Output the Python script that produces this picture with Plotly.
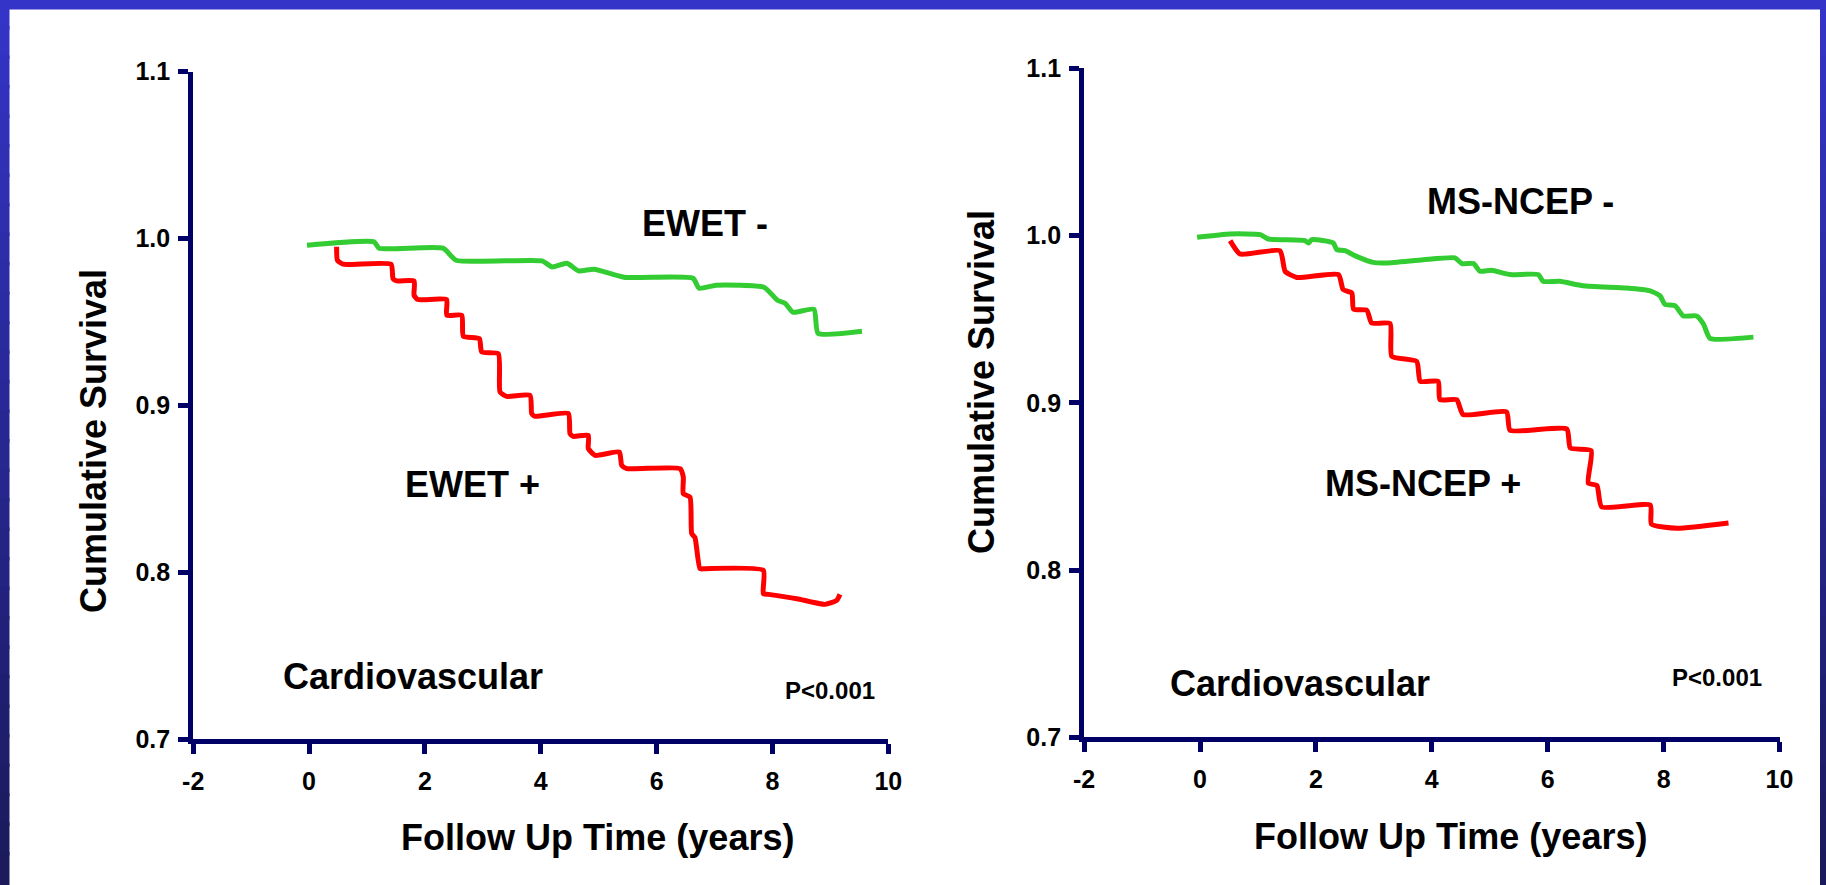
import plotly.graph_objects as go

# ---------------- data ----------------
ewet_neg_t = [-0.035, 1.122, 1.208, 2.313, 2.538, 4.022, 4.195, 4.454, 4.652, 4.920, 5.438,
              6.629, 6.733, 7.026, 7.854, 8.087, 8.217, 8.355, 8.717, 8.787, 9.546]
ewet_neg_s = [0.996, 0.998, 0.9942, 0.9942, 0.9870, 0.9866, 0.9830, 0.9852, 0.9806, 0.9816, 0.9768,
              0.9762, 0.9702, 0.9720, 0.9708, 0.9630, 0.9612, 0.9558, 0.9576, 0.9432, 0.9444]

ewet_pos_t = [0.476, 0.490, 0.589, 1.415, 1.450, 1.514, 1.813, 1.813, 1.878, 2.374, 2.377, 2.636,
              2.664, 2.940, 2.981, 3.268, 3.297, 3.413, 3.815, 3.844, 3.901, 4.476, 4.505, 4.562,
              4.821, 4.821, 4.937, 5.356, 5.398, 5.484, 6.404, 6.461, 6.461, 6.577, 6.606, 6.663,
              6.749, 6.836, 7.842, 7.842, 7.929, 8.419, 8.907, 9.109, 9.166]
ewet_pos_s = [0.995, 0.987, 0.9846, 0.9846, 0.9760, 0.9746, 0.9746, 0.9660, 0.9634, 0.9634, 0.9540,
              0.9540, 0.9414, 0.9400, 0.9320, 0.9310, 0.9080, 0.9054, 0.9060, 0.8951, 0.8934, 0.8951,
              0.8831, 0.8814, 0.8820, 0.8741, 0.8700, 0.8720, 0.8640, 0.8621, 0.8621, 0.8570, 0.8471,
              0.8450, 0.8231, 0.8207, 0.8021, 0.8021, 0.8011, 0.7871, 0.7867, 0.7841, 0.7807, 0.7831,
              0.7867]

ncep_neg_t = [-0.05, 0.52, 1.04, 1.18, 1.81, 1.87, 1.93, 2.30, 2.36, 2.50, 2.70, 2.99, 3.22, 3.85,
              4.40, 4.52, 4.72, 4.83, 5.03, 5.35, 5.84, 5.92, 6.21, 6.61, 7.36, 7.77, 7.94, 8.02,
              8.20, 8.34, 8.57, 8.69, 8.80, 9.55]
ncep_neg_s = [0.999, 1.001, 1.0006, 0.998, 0.997, 0.9956, 0.9976, 0.9956, 0.9916, 0.991, 0.9876,
              0.984, 0.9837, 0.9856, 0.9867, 0.9833, 0.9833, 0.9787, 0.9793, 0.9767, 0.9767, 0.9727,
              0.9727, 0.970, 0.9687, 0.967, 0.964, 0.959, 0.958, 0.952, 0.952, 0.947, 0.9386, 0.9393]

ncep_pos_t = [0.52, 0.69, 1.38, 1.47, 1.67, 2.39, 2.47, 2.62, 2.65, 2.88, 2.96, 3.28, 3.31, 3.74,
              3.80, 4.11, 4.14, 4.43, 4.54, 5.29, 5.35, 6.33, 6.39, 6.75, 6.70, 6.85, 6.93, 7.77,
              7.79, 8.23, 9.12]
ncep_pos_s = [0.997, 0.989, 0.991, 0.9786, 0.975, 0.9767, 0.9677, 0.9657, 0.956, 0.9553, 0.9478,
              0.9474, 0.9278, 0.9248, 0.9129, 0.9129, 0.9019, 0.9019, 0.893, 0.8946, 0.8836, 0.8844,
              0.873, 0.8715, 0.852, 0.8506, 0.8378, 0.8388, 0.8275, 0.825, 0.8282]

x_ticks = [-2, 0, 2, 4, 6, 8, 10]
x_tick_labels = ["-2", "0", "2", "4", "6", "8", "10"]
y_ticks = [0.7, 0.8, 0.9, 1.0, 1.1]
y_tick_labels = ["0.7", "0.8", "0.9", "1.0", "1.1"]

# ---------------- styling ----------------
W, H = 1826, 885
FONT = "Liberation Sans, Arial, Helvetica, sans-serif"
NAVY = "#000066"
RED = "#ff0000"
GREEN = "#33cc33"

def px_x(p):
    return p / W

def px_y(p):
    return 1 - p / H

fig = go.Figure()

line_kw = dict(width=5, shape="spline", smoothing=0.5)
fig.add_trace(go.Scatter(x=ewet_neg_t, y=ewet_neg_s, mode="lines", line=dict(color=GREEN, **line_kw),
                         xaxis="x", yaxis="y", showlegend=False, hoverinfo="skip"))
fig.add_trace(go.Scatter(x=ewet_pos_t, y=ewet_pos_s, mode="lines", line=dict(color=RED, **line_kw),
                         xaxis="x", yaxis="y", showlegend=False, hoverinfo="skip"))
fig.add_trace(go.Scatter(x=ncep_neg_t, y=ncep_neg_s, mode="lines", line=dict(color=GREEN, **line_kw),
                         xaxis="x2", yaxis="y2", showlegend=False, hoverinfo="skip"))
fig.add_trace(go.Scatter(x=ncep_pos_t, y=ncep_pos_s, mode="lines", line=dict(color=RED, **line_kw),
                         xaxis="x2", yaxis="y2", showlegend=False, hoverinfo="skip"))

tickfont = dict(family=FONT, size=25, color="black", weight="bold")

def xaxis(domain, anchor):
    return dict(domain=domain, anchor=anchor, range=[-2, 10], tickvals=x_ticks, ticktext=x_tick_labels,
                showline=True, linewidth=5, linecolor=NAVY, ticks="outside", ticklen=10, tickwidth=5,
                tickcolor=NAVY, showgrid=False, zeroline=False, tickfont=tickfont,
                ticklabelstandoff=6, fixedrange=True, automargin=False)

def yaxis(domain, anchor):
    return dict(domain=domain, anchor=anchor, range=[0.7, 1.1], tickvals=y_ticks, ticktext=y_tick_labels,
                showline=True, linewidth=5, linecolor=NAVY, ticks="outside", ticklen=10, tickwidth=5,
                tickcolor=NAVY, showgrid=False, zeroline=False, tickfont=tickfont,
                ticklabelstandoff=3, fixedrange=True, automargin=False)

fig.update_layout(
    width=W, height=H,
    margin=dict(l=0, r=0, t=0, b=0, pad=0),
    paper_bgcolor="white", plot_bgcolor="white",
    xaxis=xaxis([px_x(193.2), px_x(888.3)], "y"),
    yaxis=yaxis([px_y(739.0), px_y(71.7)], "x"),
    xaxis2=xaxis([px_x(1084.1), px_x(1779.5)], "y2"),
    yaxis2=yaxis([px_y(737.3), px_y(68.4)], "x2"),
    showlegend=False,
)

big = dict(family=FONT, size=36, color="black", weight="bold")
small = dict(family=FONT, size=24, color="black", weight="bold")

annotations = [
    dict(text="EWET -", x=6.836, y=1.0088, xref="x", yref="y", font=big),
    dict(text="EWET +", x=2.822, y=0.8527, xref="x", yref="y", font=big),
    dict(text="Cardiovascular", x=1.790, y=0.7375, xref="x", yref="y", font=big),
    dict(text="P<0.001", x=8.994, y=0.7288, xref="x", yref="y", font=small),
    dict(text="MS-NCEP -", x=5.539, y=1.0207, xref="x2", yref="y2", font=big),
    dict(text="MS-NCEP +", x=3.843, y=0.8520, xref="x2", yref="y2", font=big),
    dict(text="Cardiovascular", x=1.726, y=0.7324, xref="x2", yref="y2", font=big),
    dict(text="P<0.001", x=8.913, y=0.7360, xref="x2", yref="y2", font=small),
    dict(text="Follow Up Time (years)", x=px_x(597.7), y=px_y(837), xref="paper", yref="paper", font=big),
    dict(text="Follow Up Time (years)", x=px_x(1450), y=px_y(836), xref="paper", yref="paper", font=big),
    dict(text="Cumulative Survival", x=px_x(93), y=px_y(441), xref="paper", yref="paper", font=big,
         textangle=-90),
    dict(text="Cumulative Survival", x=px_x(982), y=px_y(382), xref="paper", yref="paper", font=big,
         textangle=-90),
]
for a in annotations:
    a.update(showarrow=False, xanchor="center", yanchor="middle")
fig.update_layout(annotations=annotations)

# ---------------- slide frame (blue border) ----------------
shapes = []
top_c = (52, 52, 200)
bot_c = (26, 26, 92)
n = 30
for i in range(n):
    f = i / (n - 1)
    c = tuple(int(round(top_c[k] + (bot_c[k] - top_c[k]) * f)) for k in range(3))
    col = "rgb(%d,%d,%d)" % c
    y1 = min(1.0, 1 - i / n + 0.004)
    y0 = max(0.0, 1 - (i + 1) / n)
    shapes.append(dict(type="rect", xref="paper", yref="paper", x0=0, x1=px_x(9.5), y0=y0, y1=y1,
                       fillcolor=col, line=dict(width=0), layer="below"))
    shapes.append(dict(type="rect", xref="paper", yref="paper", x0=px_x(1820), x1=1, y0=y0, y1=y1,
                       fillcolor=col, line=dict(width=0), layer="below"))
shapes.append(dict(type="rect", xref="paper", yref="paper", x0=0, x1=1, y0=px_y(9.5), y1=1,
                   fillcolor="rgb(52,52,200)", line=dict(width=0), layer="below"))
fig.update_layout(shapes=shapes)

fig.write_html(
    "out.html",
    config={"displayModeBar": False},
    post_script="document.body.style.margin='0';document.body.style.padding='0';"
                "document.body.style.overflow='hidden';",
)
